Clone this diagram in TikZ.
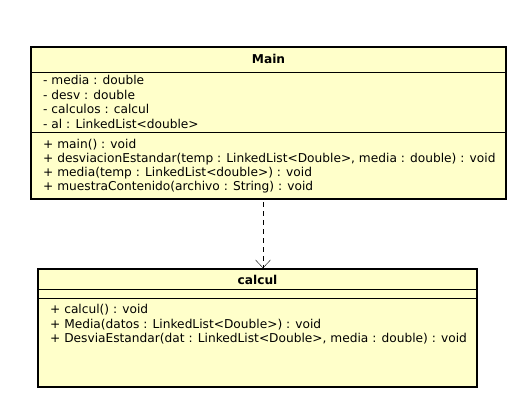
\documentclass[tikz,border=0pt]{standalone}
\usepackage{fontspec}
\setmainfont{DejaVu Sans}
\usetikzlibrary{arrows.meta}
\definecolor{notepaper}{RGB}{255,255,202}
\tikzstyle{classbox}=[draw, line width=1.6pt, fill=notepaper, inner sep=0pt]
\tikzstyle{member}=[anchor=west, inner sep=0pt, font=\fontsize{12.2}{14}\selectfont]
\tikzstyle{title}=[inner sep=0pt, font=\fontsize{12.2}{14}\selectfont\bfseries]

\begin{document}
\begin{tikzpicture}[x=1pt, y=-1pt]
\useasboundingbox (0,0) rectangle (523,404);
% Boxes
    \node[classbox, minimum width=475pt, minimum height=152pt] (main) at (268.5,123) {};
    \node[classbox, minimum width=439pt, minimum height=118pt] (calcul) at (257.5,328) {};
% Compartments
    \draw (31,72) -- (506,72);
    \draw (31,132) -- (506,132);
    \draw (38,289) -- (477,289);
    \draw (38,298) -- (477,298);
% Main
    \node[title] (mainname) at (268.5,59) {Main};
    \node[member] (m1) at (43,80) {- media : double};
    \node[member] (m2) at (43,94.5) {- desv : double};
    \node[member] (m3) at (43,109) {- calculos : calcul};
    \node[member] (m4) at (43,123.5) {- al : LinkedList<double>};
    \node[member] (m5) at (43,145) {+ main() : void};
    \node[member] (m6) at (43,159) {+ desviacionEstandar(temp : LinkedList<Double>, media : double) : void};
    \node[member] (m7) at (43,173) {+ media(temp : LinkedList<double>) : void};
    \node[member] (m8) at (43,187) {+ muestraContenido(archivo : String) : void};
% calcul
    \node[title] (calculname) at (257.5,280) {calcul};
    \node[member] (c1) at (50,310) {+ calcul() : void};
    \node[member] (c2) at (50,324.5) {+ Media(datos : LinkedList<Double>) : void};
    \node[member] (c3) at (50,339) {+ DesviaEstandar(dat : LinkedList<Double>, media : double) : void};
% Dependency
    \coordinate (dep) at (263,202);
    \draw[dash pattern=on 5pt off 4pt, -{Straight Barb[length=8pt, width=15pt]}] (dep) -- (dep |- calcul.north);
\end{tikzpicture}
\end{document}
